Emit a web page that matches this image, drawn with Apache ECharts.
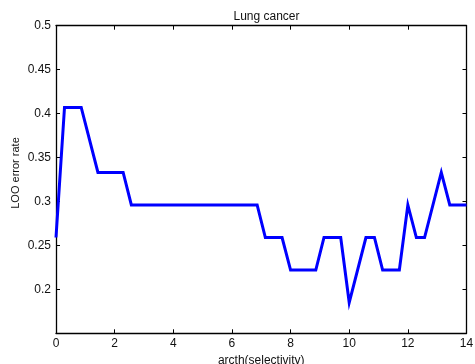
<!DOCTYPE html>
<html><head><meta charset="utf-8">
<script src="https://cdn.jsdelivr.net/npm/echarts@6/dist/echarts.min.js"></script>
<style>html,body{margin:0;padding:0;background:#fff}#c{width:475px;height:364px}</style>
</head><body><div id="c"></div>
<script>
const titleText = "Lung cancer";
const xLabel = "arcth(selectivity)";
const yLabel = "LOO error rate";
const xValues = [0, 0.29, 0.86, 1.43, 2.29, 2.57, 6.86, 7.14, 7.71, 8.0, 8.86, 9.14, 9.71, 10.0, 10.57, 10.86, 11.14, 11.71, 12.0, 12.29, 12.57, 13.14, 13.43, 14];
const errValues = [0.259, 0.407, 0.407, 0.333, 0.333, 0.296, 0.296, 0.259, 0.259, 0.222, 0.222, 0.259, 0.259, 0.185, 0.259, 0.259, 0.222, 0.222, 0.296, 0.259, 0.259, 0.333, 0.296, 0.296];
const xTicks = [0, 2, 4, 6, 8, 10, 12, 14];
const yTicks = [0.2, 0.25, 0.3, 0.35, 0.4, 0.45, 0.5];

const font = "'Liberation Sans', Arial, sans-serif";
const chart = echarts.init(document.getElementById('c'));
const axisCommon = {
  axisLine: {show: true, onZero: false, lineStyle: {color: '#000', width: 1.3}},
  axisTick: {show: true, inside: true, length: 4, lineStyle: {color: '#000', width: 1}},
  splitLine: {show: false}
};
chart.setOption({
  animation: false,
  title: {text: titleText, left: 261.5, top: 6, textAlign: 'center',
    textStyle: {fontFamily: font, fontSize: 12, fontWeight: 'normal', color: '#111'}},
  grid: {left: 56, right: 8.5, top: 25.7, bottom: 30.7, containLabel: false, outerBoundsMode: 'none'},
  xAxis: [
    Object.assign({type: 'value', min: 0, max: 14, interval: 2, position: 'bottom',
      name: xLabel, nameLocation: 'middle', nameGap: 18,
      nameTextStyle: {fontFamily: font, fontSize: 12, color: '#111'},
      axisLabel: {fontFamily: font, fontSize: 12, color: '#111', margin: 4,
        formatter: v => xTicks.includes(v) ? String(v) : ''}}, axisCommon),
    Object.assign({type: 'value', min: 0, max: 14, interval: 2, position: 'top',
      axisLabel: {show: false}}, axisCommon)
  ],
  yAxis: [
    Object.assign({type: 'value', min: 0.15, max: 0.5, interval: 0.05, position: 'left',
      axisLabel: {fontFamily: font, fontSize: 12, color: '#111', margin: 5,
        formatter: v => {
          const r = Math.round(v * 100) / 100;
          return yTicks.some(t => Math.abs(t - r) < 1e-9) ? String(r) : '';
        }}}, axisCommon),
    Object.assign({type: 'value', min: 0.15, max: 0.5, interval: 0.05, position: 'right',
      axisLabel: {show: false}}, axisCommon)
  ],
  graphic: [{
    type: 'text', x: 15.5, y: 173, rotation: Math.PI / 2,
    style: {text: yLabel, font: "11px 'Liberation Sans', Arial, sans-serif", fill: '#111',
      align: 'center', verticalAlign: 'middle'}
  }],
  series: [{
    type: 'line', xAxisIndex: 0, yAxisIndex: 0,
    data: xValues.map((x, i) => [x, errValues[i]]),
    showSymbol: false, symbol: 'none',
    lineStyle: {color: '#0000ff', width: 3, join: 'miter'},
    itemStyle: {color: '#0000ff'}
  }]
});
</script></body></html>
